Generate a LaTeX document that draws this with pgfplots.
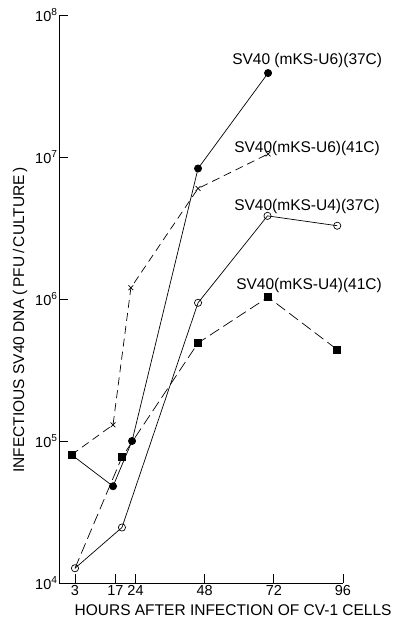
\documentclass[border=0pt]{standalone}
\usepackage{pgfplots}
\pgfplotsset{compat=1.18}
\usepackage{fontspec}
\setmainfont{Liberation Sans}
\begin{document}
\begin{tikzpicture}
\useasboundingbox (-59pt,-38pt) rectangle (338pt,583pt);
\begin{axis}[
  scale only axis, width=284pt, height=568pt,
  anchor=south west, at={(0,0)},
  ymode=log, ymin=1e4, ymax=1e8,
  xmin=-2.55, xmax=96,
  axis x line=bottom, axis y line=left,
  axis line style={-, line width=0.9pt},
  tick align=inside, major tick length=9pt,
  tick style={line width=0.9pt, black},
  xtick={3,17,24,48,72,96},
  xticklabels={3,17,24,48,72,96},
  ytick={1e4,1e5,1e6,1e7,1e8},
  yticklabels={10\textsuperscript{4},10\textsuperscript{5},10\textsuperscript{6},10\textsuperscript{7},10\textsuperscript{8}},
  minor tick num=0, yminorticks=false,
  ticklabel style={font=\fontsize{14.5}{14.5}\selectfont},
  xticklabel style={yshift=1pt},
  yticklabel style={xshift=2pt},
  clip=false,
  every axis plot/.append style={black, line width=0.7pt},
]
% SV40 (mKS-U6)(37C)
\addplot[solid, mark=*, mark size=3.6pt, mark indices={2,3,4,5}] coordinates {
 (1.8,8e4) (16.2,4.8e4) (22.8,1.0e5) (45.7,8.3e6) (70,3.9e7)};
% SV40 (mKS-U6)(41C)
\addplot[dash pattern=on 8pt off 5pt, mark=x, mark size=3.4pt, mark options={solid}, mark indices={2,3,4,5}] coordinates {
 (1.8,8e4) (16.2,1.3e5) (22.4,1.2e6) (45.7,6.0e6) (70,1.05e7)};
% SV40(mKS-U4)(37C)
\addplot[solid, mark=o, mark size=3.6pt, mark options={fill=white}] coordinates {
 (3,1.27e4) (19.3,2.46e4) (45.7,9.4e5) (69.8,3.85e6) (94,3.28e6)};
% SV40(mKS-U4)(41C)
\addplot[dash pattern=on 11pt off 5pt, mark=square*, mark size=3.6pt, mark options={solid}, mark indices={2,3,4,5}] coordinates {
 (3,1.27e4) (19.3,7.7e4) (45.7,4.9e5) (70,1.03e6) (94,4.4e5)};
% start marker of the U6 series
\addplot[only marks, mark=square*, mark size=3.6pt] coordinates {(1.8,8e4)};
\tikzset{lab/.style={anchor=base west, inner sep=0pt, font=\fontsize{15.5}{15.5}\selectfont}}
\node[lab] at (axis cs:57.5,4.45e7) {SV40 (mKS-U6)(37C)};
\node[lab] at (axis cs:58.2,1.08e7) {SV40(mKS-U6)(41C)};
\node[lab] at (axis cs:58.2,4.17e6) {SV40(mKS-U4)(37C)};
\node[lab] at (axis cs:58.9,1.16e6) {SV40(mKS-U4)(41C)};
\node[font=\fontsize{15.5}{15.5}\selectfont] at (rel axis cs:0.613,-0.048) {HOURS AFTER INFECTION OF CV-1 CELLS};
\node[rotate=90, font=\fontsize{15.5}{15.5}\selectfont] at (rel axis cs:-0.137,0.463) {INFECTIOUS SV40 DNA (\,PFU\,/\,CULTURE\,)};
\end{axis}
\end{tikzpicture}
\end{document}
